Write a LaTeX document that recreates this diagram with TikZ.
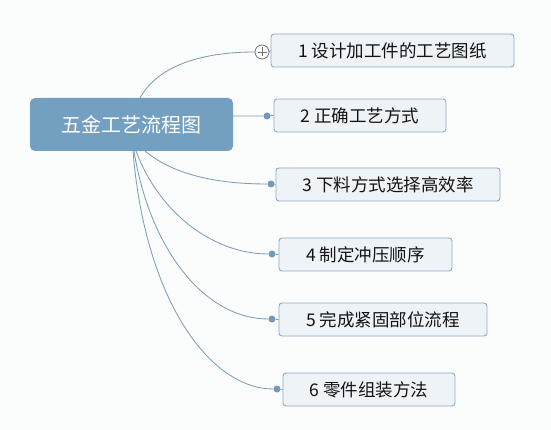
\documentclass[tikz,border=0pt]{standalone}
\usepackage{fontspec}
\setmainfont{Noto Sans CJK SC}
\definecolor{bg}{HTML}{FBFCFC}
\definecolor{rootfill}{HTML}{739FC0}
\definecolor{boxfill}{HTML}{EEF3F8}
\definecolor{boxline}{HTML}{8EAAC3}
\definecolor{wire}{HTML}{7E9EB8}
\definecolor{dotc}{HTML}{7399BA}
\begin{document}
\begin{tikzpicture}[x=1pt,y=-1pt,
  rootbox/.style={draw=none,fill=rootfill,rounded corners=5pt,text=white,font=\fontsize{20}{22}\selectfont,inner sep=0pt},
  childbox/.style={draw=boxline,fill=boxfill,rounded corners=3pt,line width=0.9pt,font=\fontsize{17.5}{19}\selectfont,text=black!92,inner sep=0pt},
  wireline/.style={draw=wire,line width=0.85pt},
  enddot/.style={circle,fill=dotc,inner sep=0pt,minimum size=7pt}]
\useasboundingbox[fill=bg] (0,0) rectangle (551,430);
% root
\node[rootbox,minimum width=203pt,minimum height=53pt] (root) at (131.5,124.5) {五金工艺流程图};
% children
\node[childbox,minimum width=243pt,minimum height=33pt] (c1) at (392.5,50.5) {1 设计加工件的工艺图纸};
\node[childbox,minimum width=172pt,minimum height=33pt] (c2) at (360,115.5) {2 正确工艺方式};
\node[childbox,minimum width=224pt,minimum height=33pt] (c3) at (388,184.5) {3 下料方式选择高效率};
\node[childbox,minimum width=173pt,minimum height=33pt] (c4) at (365.5,254.5) {4 制定冲压顺序};
\node[childbox,minimum width=208pt,minimum height=33pt] (c5) at (383,319.5) {5 完成紧固部位流程};
\node[childbox,minimum width=172pt,minimum height=33pt] (c6) at (369,389.5) {6 零件组装方法};
% dots
\node[enddot] (d2) at (267,116) {};
\node[enddot] (d3) at (271,184) {};
\node[enddot] (d4) at (272,254) {};
\node[enddot] (d5) at (272,319) {};
\node[enddot] (d6) at (277,389) {};
% collapse sign
\node[circle,draw=black!55,fill=bg,line width=0.8pt,minimum size=14pt,inner sep=0pt] (p1) at (262,52) {};
\draw[black!55,line width=0.8pt] ([xshift=-4.5pt]p1.center) -- ([xshift=4.5pt]p1.center)
  ([yshift=-4.5pt]p1.center) -- ([yshift=4.5pt]p1.center);
% anchors on root
\coordinate (r1) at (140,98);
\coordinate (r2) at (233,116);
\coordinate (r3) at (145,151);
\coordinate (r4) at (136,151);
\coordinate (r5) at (134,151);
\coordinate (r6) at (133,151);
% connectors
\draw[wireline] (r1) .. controls (160,62) and (210,52) .. (p1.west);
\draw[wireline] (p1.east) -- (c1.west);
\draw[wireline] (r2) -- (d2) -- (c2.west);
\draw[wireline] (r3) .. controls (175,176) and (220,184) .. (d3) -- (c3.west);
\draw[wireline] (r4) .. controls (160,215) and (215,254) .. (d4) -- (c4.west);
\draw[wireline] (r5) .. controls (150,250) and (205,319) .. (d5) -- (c5.west);
\draw[wireline] (r6) .. controls (145,300) and (210,389) .. (d6) -- (c6.west);
\end{tikzpicture}
\end{document}
